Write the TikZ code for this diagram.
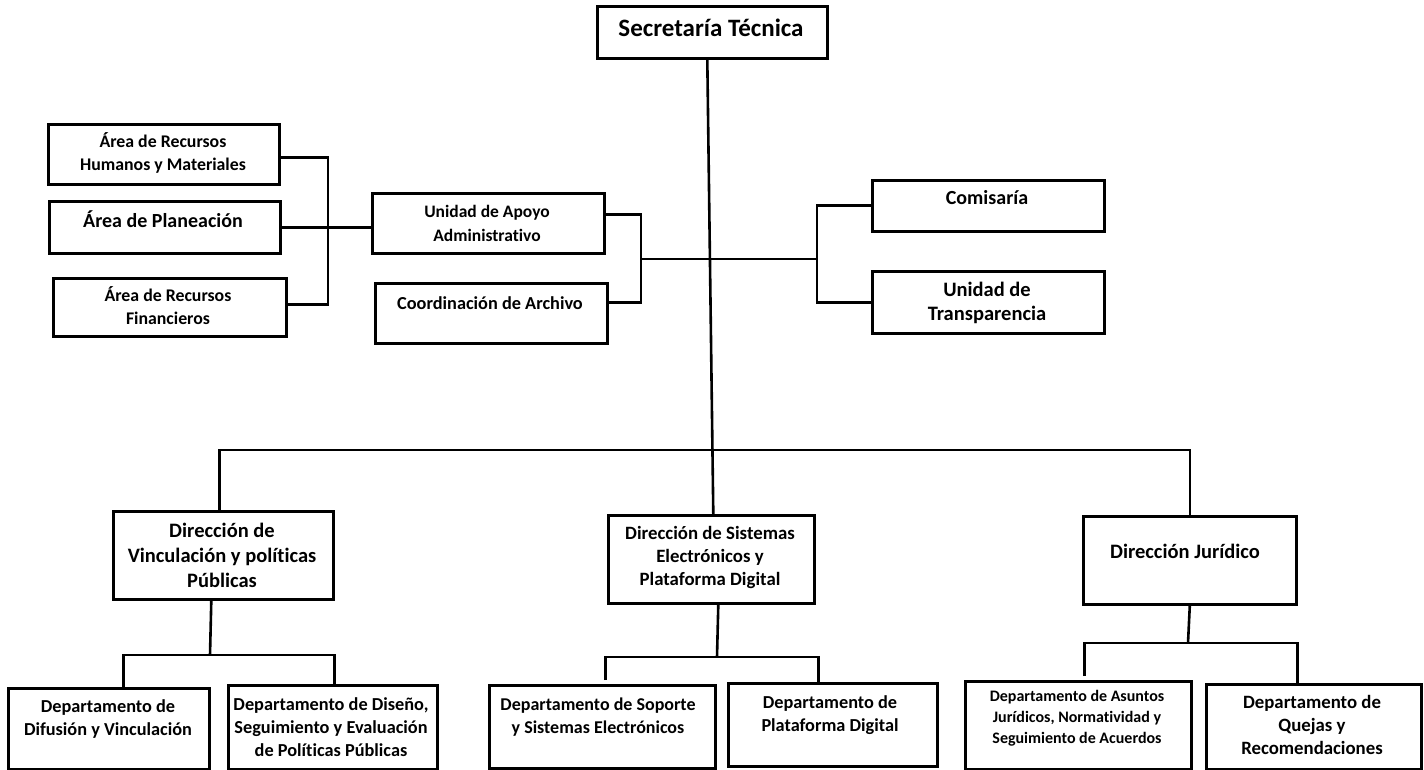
\documentclass[tikz,border=0pt]{standalone}
\usepackage{fontspec}
\setmainfont{Carlito}[Ligatures=NoCommon]
\begin{document}
\begin{tikzpicture}[x=1pt,y=-1pt,
  box/.style={draw, line width=2.6pt, inner sep=0, anchor=north west},
  conn/.style={line width=2.6pt},
  txt/.style={font=\bfseries\fontsize{18.3}{23}\selectfont, align=center, inner sep=0},
  fs/.style 2 args={font=\bfseries\fontsize{#1}{#2}\selectfont}]
\useasboundingbox (0,0) rectangle (1424,770);
% boxes
\node[box, minimum width=230pt, minimum height=52pt] (st) at (596,5) {};
\node[box, minimum width=231pt, minimum height=60pt] (arh) at (47,123) {};
\node[box, minimum width=231pt, minimum height=52pt] (apl) at (48,200) {};
\node[box, minimum width=233pt, minimum height=58pt] (arf) at (52,277) {};
\node[box, minimum width=232pt, minimum height=60pt] (uaa) at (371,192) {};
\node[box, minimum width=232pt, minimum height=60pt] (ca) at (374,282) {};
\node[box, minimum width=232pt, minimum height=51pt] (com) at (871,179) {};
\node[box, minimum width=232pt, minimum height=62pt] (ut) at (871,270) {};
\node[box, minimum width=220pt, minimum height=88pt] (dv) at (112,510) {};
\node[box, minimum width=206pt, minimum height=88pt] (ds) at (607,514) {};
\node[box, minimum width=213pt, minimum height=88pt] (dj) at (1082,515) {};
\node[box, minimum width=201pt, minimum height=81pt] (d1) at (7,687) {};
\node[box, minimum width=209pt, minimum height=84pt] (d2) at (227,684) {};
\node[box, minimum width=226pt, minimum height=83pt] (d3) at (488,684) {};
\node[box, minimum width=209pt, minimum height=83pt] (d4) at (727,682) {};
\node[box, minimum width=226pt, minimum height=88pt] (d5) at (964,680) {};
\node[box, minimum width=215pt, minimum height=85pt] (d6) at (1205,683) {};
% texts
\node[txt, fs={25}{28}] (st-t) at (711,28) {Secretaría Técnica};
\node[txt, fs={17.8}{23}] (arh-t) at (163,152.5) {Área de Recursos\\Humanos y Materiales};
\node[txt, fs={20}{24}] (apl-t) at (163,219) {Área de Planeación};
\node[txt, fs={17.8}{23}] (arf-t) at (168,305.5) {Área de Recursos\\Financieros};
\node[txt, fs={17.5}{24}] (uaa-t) at (487,223) {Unidad de Apoyo\\Administrativo};
\node[txt] (ca-t) at (490,303) {Coordinación de Archivo};
\node[txt, fs={20}{24}] (com-t) at (987,198) {Comisaría};
\node[txt, fs={20.5}{24}] (ut-t) at (987,303) {Unidad de\\Transparencia};
\node[txt, fs={20.5}{25}] (dv-t) at (222,555) {Dirección de\\Vinculación y políticas\\Públicas};
\node[txt, fs={18.8}{23}] (ds-t) at (710,557) {Dirección de Sistemas\\Electrónicos y\\Plataforma Digital};
\node[txt, fs={20.5}{25}] (dj-t) at (1185,551) {Dirección Jurídico};
\node[txt] (d1-t) at (108,719.5) {Departamento de\\Difusión y Vinculación};
\node[txt] (d2-t) at (331,727.5) {Departamento de Diseño,\\Seguimiento y Evaluación\\de Políticas Públicas};
\node[txt, fs={18}{23}] (d3-t) at (598,717.5) {Departamento de Soporte\\y Sistemas Electrónicos};
\node[txt] (d4-t) at (830,715.5) {Departamento de\\Plataforma Digital};
\node[txt, fs={16}{21}] (d5-t) at (1077,718) {Departamento de Asuntos\\Jurídicos, Normatividad y\\Seguimiento de Acuerdos};
\node[txt, fs={18.8}{23}] (d6-t) at (1312,725) {Departamento de\\Quejas y\\Recomendaciones};
% junctions
\coordinate (k) at (328,225);
\coordinate (j1) at (641,259);
\coordinate (j2) at (817,259);
\coordinate (bus) at (712,450);
\coordinate (v) at (210,655);
\coordinate (s) at (717,657);
\coordinate (j) at (1188,643);
% connectors
\draw[conn] ([xshift=-5pt]st.south) -- ([xshift=2pt]ds.north);
\draw[conn] ([yshift=-3pt]arh.east) -| (k) |- ([yshift=3pt]arf.east);
\draw[conn] (apl.east) -- (apl.east -| uaa.west);
\draw[conn] ([yshift=9pt]uaa.east) -| (j1) |- ([yshift=11pt]ca.east);
\draw[conn] (j1) -- (j2);
\draw[conn] (com.west) -| (j2) |- (ut.west);
\draw[conn] ([xshift=-4pt]dv.north) |- (bus) -| (dj.north);
\draw[conn] ([xshift=-12pt]dv.south) -- (v);
\draw[conn] ([xshift=14.5pt]d1.north) |- (v) -| ([xshift=1.5pt]d2.north);
\draw[conn] ([xshift=7pt]ds.south) -- (s);
\draw[conn] ([xshift=3pt,yshift=4pt]d3.north) |- (s) -| ([xshift=-14.5pt]d4.north);
\draw[conn] (dj.south) -- (j);
\draw[conn] ([xshift=6pt,yshift=4pt]d5.north) |- (j) -| ([xshift=-16.5pt]d6.north);
\end{tikzpicture}
\end{document}
